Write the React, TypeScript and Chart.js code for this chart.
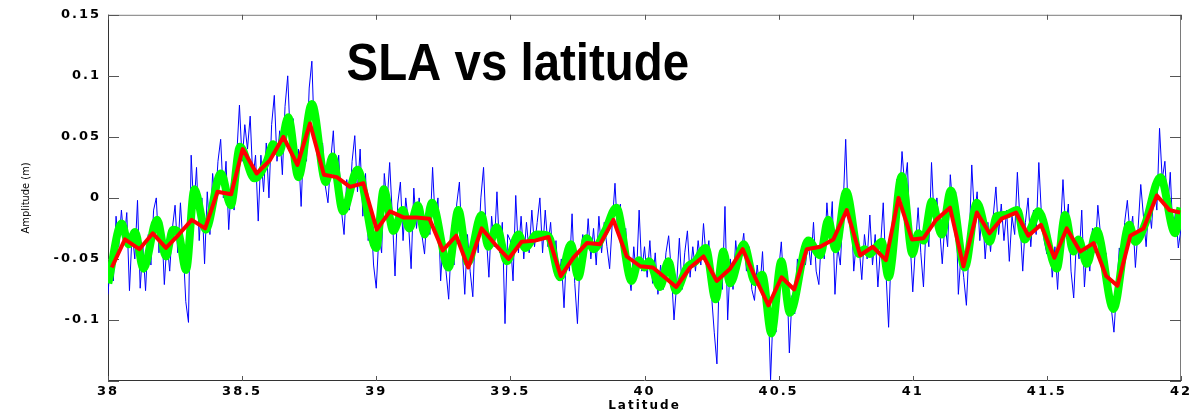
import React, { useEffect, useRef } from 'react';
import { Chart, registerables } from 'chart.js';

Chart.register(...registerables);

// ---------- data ----------
const titleText = 'SLA vs latitude';
const xTitle = 'Latitude';
const yTitle = 'Amplitude (m)';

const xMin = 38;
const xMax = 42;
const xStep = 0.5;
const yMin = -0.15;
const yMax = 0.15;
const yStep = 0.05;

// raw SLA (blue), sampled every 0.01 deg from 38.00 to 42.00
const blueStart = 38;
const blueStep = 0.01;
const blueValues = [
  -0.079, -0.048, -0.068, -0.015, -0.040, -0.010, -0.035, -0.012, -0.076, -0.028, // 38.0
  -0.050, -0.002, -0.074, -0.040, -0.076, -0.030, -0.055, -0.010, 0.000, -0.045, // 38.1
  -0.020, -0.071, -0.035, -0.060, -0.025, -0.006, -0.045, -0.004, -0.040, -0.085, // 38.2
  -0.102, 0.035, -0.010, 0.025, -0.035, 0.000, -0.054, 0.005, -0.030, 0.020, // 38.3
  -0.005, 0.030, 0.048, 0.000, 0.030, -0.026, 0.012, -0.010, 0.035, 0.076, // 38.4
  0.030, 0.060, 0.040, 0.067, 0.015, 0.035, -0.019, 0.035, 0.005, 0.045, // 38.5
  0.000, 0.060, 0.084, 0.030, 0.055, 0.019, 0.075, 0.100, 0.045, 0.065, // 38.6
  0.020, 0.040, -0.007, 0.050, 0.030, 0.090, 0.112, 0.045, 0.065, 0.020, // 38.7
  0.045, 0.010, -0.004, 0.030, 0.055, 0.010, 0.035, -0.010, -0.030, 0.015, // 38.8
  -0.010, 0.030, 0.051, 0.005, 0.040, -0.015, 0.020, -0.035, -0.010, -0.055, // 38.9
  -0.074, -0.030, -0.045, 0.020, -0.005, 0.029, -0.015, -0.064, -0.005, 0.013, // 39.0
  -0.035, 0.000, -0.020, -0.058, 0.008, -0.025, 0.000, -0.030, -0.046, -0.010, // 39.1
  -0.030, 0.025, -0.020, 0.000, -0.068, -0.030, -0.060, -0.083, -0.035, -0.055, // 39.2
  -0.005, 0.013, -0.040, -0.079, -0.030, -0.060, -0.081, -0.020, -0.045, 0.000, // 39.3
  0.025, -0.030, -0.065, -0.015, -0.040, 0.005, -0.045, -0.020, -0.103, -0.030, // 39.4
  -0.035, -0.068, 0.002, -0.045, -0.015, -0.050, -0.020, -0.045, -0.010, -0.040, // 39.5
  -0.020, 0.000, -0.045, -0.010, -0.040, -0.020, -0.055, -0.035, -0.068, -0.050, // 39.6
  -0.090, -0.040, -0.060, -0.013, -0.070, -0.103, -0.050, -0.030, -0.050, -0.017, // 39.7
  -0.050, -0.025, -0.055, -0.015, -0.045, -0.020, -0.040, -0.058, -0.020, 0.012, // 39.8
  -0.030, -0.005, -0.045, -0.025, -0.060, -0.076, -0.040, -0.065, -0.010, -0.060, // 39.9
  -0.040, -0.065, -0.035, -0.070, -0.045, -0.079, -0.055, -0.075, -0.045, -0.031, // 40.0
  -0.060, -0.100, -0.070, -0.033, -0.075, -0.045, -0.027, -0.065, -0.040, -0.060, // 40.1
  -0.035, -0.055, -0.021, -0.050, -0.035, -0.080, -0.110, -0.136, -0.050, -0.075, // 40.2
  -0.007, -0.100, -0.050, -0.075, -0.035, -0.060, -0.045, -0.029, -0.060, -0.040, // 40.3
  -0.075, -0.084, -0.055, -0.075, -0.044, -0.090, -0.075, -0.149, -0.090, -0.110, // 40.4
  -0.060, -0.036, -0.075, -0.060, -0.127, -0.080, -0.095, -0.050, -0.070, -0.040, // 40.5
  -0.055, -0.036, -0.055, -0.020, -0.060, -0.071, -0.030, -0.050, -0.004, -0.035, // 40.6
  -0.003, -0.079, -0.040, -0.055, -0.010, 0.048, -0.020, -0.005, -0.060, -0.035, // 40.7
  -0.040, -0.067, -0.030, -0.050, -0.014, -0.055, -0.030, -0.073, -0.040, -0.004, // 40.8
  -0.060, -0.106, -0.040, -0.055, 0.015, -0.005, 0.038, 0.010, 0.029, -0.035, // 40.9
  -0.077, -0.040, -0.008, -0.045, -0.073, -0.020, -0.040, 0.029, -0.020, 0.000, // 41.0
  -0.025, -0.054, -0.020, -0.040, 0.019, -0.010, 0.005, -0.079, -0.045, -0.065, // 41.1
  -0.088, -0.040, 0.027, -0.015, 0.005, -0.035, -0.010, -0.050, -0.020, -0.044, // 41.2
  -0.015, 0.009, -0.030, -0.005, -0.035, -0.010, -0.052, -0.015, -0.030, 0.021, // 41.3
  -0.020, -0.060, -0.020, 0.000, -0.040, -0.010, -0.030, 0.029, -0.015, -0.035, // 41.4
  -0.046, -0.030, -0.065, -0.040, -0.075, -0.030, 0.015, -0.025, -0.005, -0.060, // 41.5
  -0.082, -0.035, -0.050, -0.010, -0.073, -0.040, -0.060, -0.025, -0.045, -0.006, // 41.6
  -0.030, -0.060, -0.045, -0.070, -0.090, -0.110, -0.075, -0.041, -0.060, -0.020, // 41.7
  -0.002, -0.030, -0.015, -0.057, -0.025, 0.011, -0.015, -0.040, -0.005, -0.025, // 41.8
  0.010, -0.010, 0.057, 0.015, 0.030, -0.010, 0.021, -0.030, -0.010, -0.041, // 41.9
  -0.025, // 42.0
];

// filtered SLA (green)
const greenLat = [
  38.001, 38.051, 38.077, 38.101, 38.132, 38.183, 38.216, 38.242, 38.262, 38.291,
  38.322, 38.364, 38.421, 38.458, 38.492, 38.546, 38.592, 38.616, 38.638, 38.672,
  38.710, 38.760, 38.812, 38.837, 38.876, 38.930, 39.000, 39.028, 39.064, 39.099,
  39.123, 39.155, 39.181, 39.207, 39.270, 39.306, 39.342, 39.392, 39.418, 39.449,
  39.487, 39.530, 39.555, 39.598, 39.641, 39.685, 39.726, 39.753, 39.785, 39.810,
  39.853, 39.895, 39.952, 39.979, 40.001, 40.017, 40.058, 40.089, 40.117, 40.158,
  40.190, 40.228, 40.265, 40.294, 40.319, 40.370, 40.412, 40.439, 40.473, 40.510,
  40.542, 40.611, 40.655, 40.685, 40.712, 40.752, 40.800, 40.820, 40.840, 40.884,
  40.910, 40.959, 40.999, 41.021, 41.040, 41.071, 41.108, 41.142, 41.194, 41.239,
  41.287, 41.313, 41.345, 41.390, 41.417, 41.440, 41.469, 41.537, 41.568, 41.599,
  41.618, 41.649, 41.686, 41.748, 41.807, 41.830, 41.867, 41.923, 41.978, 41.998,
];
const greenValues = [
  -0.070, -0.021, -0.038, -0.028, -0.058, -0.018, -0.048, -0.026, -0.028, -0.059,
  0.007, -0.026, 0.020, -0.006, 0.042, 0.016, 0.030, 0.044, 0.037, 0.066,
  0.017, 0.077, 0.013, 0.034, -0.011, 0.023, -0.041, 0.007, -0.027, -0.010,
  -0.025, -0.006, -0.030, -0.004, -0.057, -0.010, -0.053, -0.014, -0.040, -0.024,
  -0.052, -0.030, -0.041, -0.030, -0.031, -0.065, -0.038, -0.065, -0.033, -0.042,
  -0.027, -0.008, -0.068, -0.051, -0.057, -0.052, -0.073, -0.052, -0.076, -0.057,
  -0.052, -0.041, -0.083, -0.044, -0.070, -0.038, -0.069, -0.063, -0.111, -0.052,
  -0.094, -0.035, -0.047, -0.018, -0.042, 0.005, -0.046, -0.042, -0.046, -0.036,
  -0.065, 0.018, -0.046, -0.029, -0.035, -0.003, -0.030, 0.006, -0.057, -0.004,
  -0.036, -0.015, -0.014, -0.010, -0.034, -0.025, -0.011, -0.058, -0.014, -0.044,
  -0.034, -0.054, -0.027, -0.091, -0.022, -0.036, -0.021, 0.017, -0.029, -0.008,
];

// averaged SLA (red)
const redLat = [
  38.014, 38.063, 38.117, 38.167, 38.216, 38.264, 38.312, 38.362, 38.408, 38.459,
  38.502, 38.554, 38.604, 38.654, 38.706, 38.753, 38.805, 38.853, 38.902, 38.952,
  39.002, 39.051, 39.101, 39.150, 39.198, 39.248, 39.298, 39.343, 39.393, 39.443,
  39.493, 39.542, 39.592, 39.642, 39.688, 39.735, 39.785, 39.834, 39.884, 39.934,
  39.984, 40.031, 40.075, 40.118, 40.170, 40.220, 40.269, 40.319, 40.366, 40.412,
  40.462, 40.511, 40.558, 40.605, 40.655, 40.704, 40.754, 40.804, 40.851, 40.900,
  40.947, 40.997, 41.040, 41.087, 41.139, 41.189, 41.239, 41.286, 41.332, 41.385,
  41.431, 41.478, 41.528, 41.574, 41.624, 41.674, 41.721, 41.763, 41.811, 41.860,
  41.910, 41.957, 41.997,
];
const redValues = [
  -0.057, -0.034, -0.042, -0.029, -0.041, -0.030, -0.018, -0.025, 0.005, 0.003,
  0.040, 0.020, 0.031, 0.050, 0.027, 0.061, 0.019, 0.017, 0.009, 0.012,
  -0.026, -0.011, -0.016, -0.016, -0.017, -0.043, -0.031, -0.057, -0.025, -0.038,
  -0.050, -0.036, -0.035, -0.032, -0.064, -0.049, -0.037, -0.038, -0.018, -0.048,
  -0.056, -0.057, -0.065, -0.073, -0.057, -0.048, -0.068, -0.058, -0.042, -0.065,
  -0.088, -0.065, -0.075, -0.042, -0.040, -0.034, -0.010, -0.047, -0.040, -0.051,
  0.000, -0.034, -0.033, -0.018, -0.008, -0.056, -0.012, -0.029, -0.017, -0.012,
  -0.031, -0.022, -0.049, -0.025, -0.044, -0.037, -0.064, -0.072, -0.031, -0.025,
  0.002, -0.010, -0.012,
];

// ---------- helpers ----------
const fmtY = (v: number) => {
  const n = Math.round(v * 100) / 100;
  if (Math.abs(n - yMin) < 1e-9) return '';
  return String(n);
};
const fmtX = (v: number) => String(Math.round(v * 10) / 10);

const framePlugin = {
  id: 'matlabFrame',
  beforeDraw(chart: any) {
    chart.ctx.letterSpacing = '0px';
  },
  beforeDatasetsDraw(chart: any) {
    const { ctx, chartArea: a, scales } = chart;
    ctx.save();
    ctx.lineWidth = 1;
    // top and right box edges (light)
    ctx.strokeStyle = '#7a7a7a';
    ctx.beginPath();
    ctx.moveTo(a.left, a.top + 0.5);
    ctx.lineTo(a.right, a.top + 0.5);
    ctx.moveTo(a.right - 0.5, a.top);
    ctx.lineTo(a.right - 0.5, a.bottom);
    ctx.stroke();
    // left and bottom box edges (dark)
    ctx.strokeStyle = '#333333';
    ctx.beginPath();
    ctx.moveTo(a.left + 0.5, a.top);
    ctx.lineTo(a.left + 0.5, a.bottom);
    ctx.moveTo(a.left, a.bottom - 0.5);
    ctx.lineTo(a.right, a.bottom - 0.5);
    ctx.stroke();
    // inward ticks
    ctx.strokeStyle = '#555555';
    ctx.beginPath();
    scales.x.ticks.forEach((t: any) => {
      const px = Math.round(scales.x.getPixelForValue(t.value)) + 0.5;
      ctx.moveTo(px, a.bottom);
      ctx.lineTo(px, a.bottom - 5);
      ctx.moveTo(px, a.top);
      ctx.lineTo(px, a.top + 5);
    });
    scales.y.ticks.forEach((t: any) => {
      const py = Math.round(scales.y.getPixelForValue(t.value)) + 0.5;
      ctx.moveTo(a.left, py);
      ctx.lineTo(a.left + 11, py);
      ctx.moveTo(a.right, py);
      ctx.lineTo(a.right - 11, py);
    });
    ctx.stroke();
    ctx.restore();
  },
  afterDatasetsDraw(chart: any) {
    const { ctx } = chart;
    ctx.save();
    ctx.letterSpacing = '0px';
    ctx.fillStyle = '#000000';
    ctx.textBaseline = 'alphabetic';
    ctx.textAlign = 'left';
    ctx.font = 'bold 51px "Liberation Sans", Arial, sans-serif';
    ctx.translate(346.5, 80);
    ctx.scale(0.93, 1);
    ctx.fillText(titleText, 0, 0);
    ctx.restore();
    // wide MATLAB-like spacing for tick labels and x title drawn after datasets
    ctx.letterSpacing = '2px';
  },
  afterDraw(chart: any) {
    chart.ctx.letterSpacing = '0px';
  },
};

export default function App() {
  const canvasRef = useRef<HTMLCanvasElement | null>(null);

  useEffect(() => {
    const canvas = canvasRef.current;
    if (!canvas) return;

    const blueData = blueValues.map((v, i) => ({ x: blueStart + i * blueStep, y: v }));
    const greenData = greenLat.map((x, i) => ({ x, y: greenValues[i] }));
    const redData = redLat.map((x, i) => ({ x, y: redValues[i] }));

    const tickFont = { family: '"DejaVu Sans", Verdana, sans-serif', size: 13, weight: 'bold' as const };

    const chart = new Chart(canvas, {
      type: 'line',
      data: {
        datasets: [
          {
            label: 'averaged',
            data: redData,
            borderColor: '#ff0000',
            borderWidth: 4,
            pointRadius: 0,
            tension: 0,
            order: 0,
            borderJoinStyle: 'round',
          },
          {
            label: 'filtered',
            data: greenData,
            borderColor: '#00ff00',
            borderWidth: 8,
            pointRadius: 0,
            cubicInterpolationMode: 'monotone',
            order: 1,
            borderJoinStyle: 'round',
          },
          {
            label: 'raw',
            data: blueData,
            borderColor: '#0000ff',
            borderWidth: 1,
            pointRadius: 0,
            tension: 0,
            order: 2,
          },
        ],
      },
      options: {
        responsive: false,
        maintainAspectRatio: false,
        animation: false,
        events: [],
        layout: { padding: { top: 11, right: 13, left: 0, bottom: 0 } },
        plugins: {
          legend: { display: false },
          tooltip: { enabled: false },
          title: { display: false },
        },
        scales: {
          x: {
            type: 'linear',
            min: xMin,
            max: xMax,
            afterFit: (s: any) => {
              s.height = 32;
            },
            ticks: {
              stepSize: xStep,
              autoSkip: false,
              maxRotation: 0,
              minRotation: 0,
              padding: 3,
              color: '#000000',
              font: tickFont,
              z: 1,
              callback: (v: any) => fmtX(Number(v)),
            },
            grid: { display: false, drawTicks: false, tickLength: 0, z: 1 },
            border: { display: false },
            title: {
              display: true,
              text: xTitle,
              color: '#000000',
              font: { family: '"DejaVu Sans", Verdana, sans-serif', size: 12, weight: 'bold' },
              padding: { top: 0, bottom: 0 },
            },
          },
          y: {
            type: 'linear',
            min: yMin,
            max: yMax,
            afterFit: (s: any) => {
              s.width = 108;
            },
            ticks: {
              stepSize: yStep,
              autoSkip: false,
              padding: 7,
              color: '#000000',
              font: tickFont,
              z: 1,
              callback: (v: any) => fmtY(Number(v)),
            },
            grid: { display: false, drawTicks: false, tickLength: 0 },
            border: { display: false },
            title: {
              display: true,
              text: yTitle,
              color: '#000000',
              font: {
                family: '"Liberation Sans Narrow", "DejaVu Sans Condensed", "Liberation Sans", sans-serif',
                size: 11,
              },
              padding: { top: 20, bottom: 0 },
            },
          },
        },
      },
      plugins: [framePlugin],
    } as any);

    return () => {
      chart.destroy();
    };
  }, []);

  return (
    <div style={{ position: 'fixed', left: 0, top: 0, width: 1194, height: 413, background: '#ffffff' }}>
      <canvas ref={canvasRef} width={1194} height={413} style={{ width: 1194, height: 413, display: 'block' }} />
    </div>
  );
}
